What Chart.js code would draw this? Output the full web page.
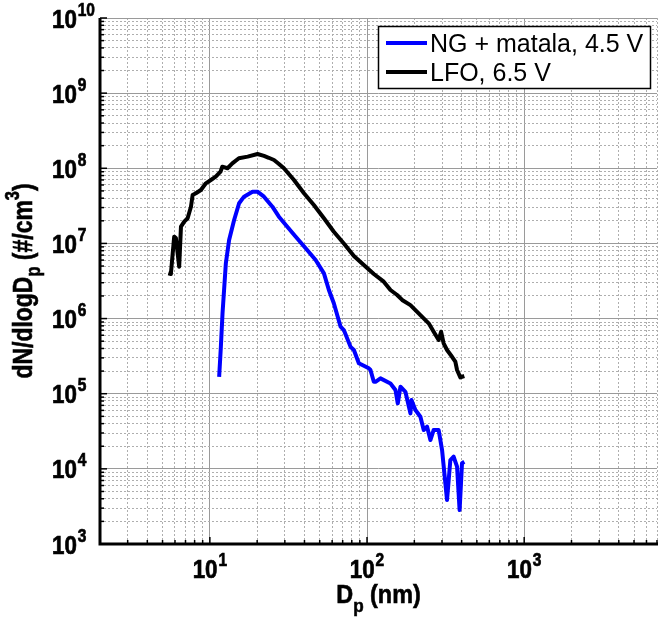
<!DOCTYPE html>
<html>
<head>
<meta charset="utf-8">
<script src="https://cdn.jsdelivr.net/npm/chart.js@4.4.1/dist/chart.umd.min.js"></script>
<style>
  html, body { margin: 0; padding: 0; background: #fff; }
</style>
</head>
<body>
<canvas id="psd" width="658" height="622"></canvas>
<script>
// size distributions: diameter in nm, dN/dlogDp in #/cm3
const ngDiameter = [11.46, 11.75, 12.04, 12.64, 13.26, 14.27, 15.35, 16.5, 18.67, 20.1, 22.1, 25.0, 27.5, 31.1, 35.2, 40.7, 47.1, 53.2, 57.2, 61.5, 67.9, 71.2, 78.6, 82.5, 88.7, 102.7, 105.2, 110.5, 113.2, 121.8, 141, 151.7, 156.9, 163.2, 175.5, 188.9, 191.7, 203.2, 218.6, 229.5, 241.1, 253.1, 265.6, 285.6, 300.3, 322.9, 339, 355.7, 374, 388.3, 402.2, 416];
const ngConc = [1.68e5, 4.2e5, 1.17e6, 5.44e6, 1.11e7, 2.05e7, 3.42e7, 4.19e7, 4.88e7, 4.88e7, 4.19e7, 3.08e7, 2.27e7, 1.67e7, 1.23e7, 8.61e6, 6.01e6, 4.0e6, 2.4e6, 1.6e6, 7.8e5, 7.04e5, 4.2e5, 3.82e5, 2.54e5, 2.18e5, 2.07e5, 1.44e5, 1.44e5, 1.6e5, 1.37e5, 1.12e5, 7.45e4, 1.24e5, 1.06e5, 5.48e4, 8.24e4, 6.07e4, 4.94e4, 3.29e4, 3.64e4, 2.42e4, 3.29e4, 3.29e4, 1.78e4, 3.85e3, 1.31e4, 1.45e4, 1.07e4, 2.83e3, 1.19e4, 1.24e4];

const lfoDiameter = [5.44, 5.65, 5.93, 6.08, 6.38, 6.55, 6.87, 7.22, 7.58, 7.77, 8.15, 8.77, 9.43, 10.15, 10.9, 11.7, 12.0, 12.95, 13.9, 15.3, 17.4, 20.1, 22.1, 23.7, 25.6, 27.4, 29.6, 34.3, 39.7, 45.9, 53.2, 61.5, 71.2, 82.5, 95.4, 110.5, 127.8, 141, 155.5, 167.3, 188.9, 218.6, 246.9, 265.6, 285.6, 296, 307.3, 322.9, 347.5, 364.7, 374, 392.5, 416];
const lfoConc = [4.0e6, 3.92e6, 1.23e7, 1.18e7, 4.9e6, 1.67e7, 1.95e7, 2.16e7, 3.08e7, 4.41e7, 4.65e7, 5.14e7, 6.31e7, 6.98e7, 7.73e7, 9.0e7, 1.05e8, 1.0e8, 1.16e8, 1.36e8, 1.43e8, 1.55e8, 1.46e8, 1.38e8, 1.29e8, 1.15e8, 1.0e8, 6.98e7, 4.65e7, 3.24e7, 2.16e7, 1.43e7, 1.0e7, 6.8e6, 5.16e6, 3.92e6, 3.1e6, 2.4e6, 2.06e6, 1.77e6, 1.51e6, 1.11e6, 8.65e5, 6.68e5, 5.19e5, 6.68e5, 4.69e5, 3.82e5, 3.1e5, 2.67e5, 2.07e5, 1.65e5, 1.72e5];

const seriesNames = ['NG + matala, 4.5 V', 'LFO, 6.5 V'];

// axis limits and labelled decades
const xMin = 2, xMax = 7000;
const yMin = 1e3, yMax = 1e10;
const xLabelExp = [1, 2, 3];
const yLabelExp = [3, 4, 5, 6, 7, 8, 9, 10];

// 1..9 x 10^n ticks for the log grid
function logTicks(min, max) {
  const out = [];
  for (let e = Math.floor(Math.log10(min)); e <= Math.ceil(Math.log10(max)); e++) {
    for (let m = 1; m <= 9; m++) {
      const v = m * Math.pow(10, e);
      if (v >= min * 0.999 && v <= max * 1.001) out.push(v);
    }
  }
  return out;
}

const isDecade = v => Math.abs(Math.log10(v) - Math.round(Math.log10(v))) < 1e-9;
const toPoints = (xs, ys) => xs.map((x, i) => ({ x: x, y: ys[i] }));

const FONT = '"Liberation Sans", Arial, Helvetica, sans-serif';
const squeeze = 0.86;

// fill + thin stroke so the bold text looks as heavy as the original
function heavyText(ctx, s, x, y) {
  ctx.fillText(s, x, y);
  ctx.strokeText(s, x, y);
}

// "10" with a raised exponent
function drawPow(ctx, x, y, exp, centred) {
  ctx.save();
  ctx.font = 'bold 26px ' + FONT;
  const wBase = ctx.measureText('10').width;
  ctx.font = 'bold 18px ' + FONT;
  const wExp = ctx.measureText(String(exp)).width;
  const total = (wBase + wExp + 1) * squeeze;
  const left = centred ? x - total / 2 : x;
  ctx.translate(left, y);
  ctx.scale(squeeze, 1);
  ctx.fillStyle = '#000';
  ctx.strokeStyle = '#000';
  ctx.lineWidth = 0.7;
  ctx.textBaseline = 'alphabetic';
  ctx.textAlign = 'left';
  ctx.font = 'bold 26px ' + FONT;
  heavyText(ctx, '10', 0, 0);
  ctx.font = 'bold 18px ' + FONT;
  heavyText(ctx, String(exp), wBase + 1, -12);
  ctx.restore();
}

// text made of pieces: [text, size, baseline shift], centred on cx
function drawPieces(ctx, pieces, cx, y) {
  let total = 0;
  pieces.forEach(p => {
    ctx.font = 'bold ' + p[1] + 'px ' + FONT;
    total += ctx.measureText(p[0]).width;
  });
  let x = cx - total / 2;
  pieces.forEach(p => {
    ctx.font = 'bold ' + p[1] + 'px ' + FONT;
    heavyText(ctx, p[0], x, y + p[2]);
    x += ctx.measureText(p[0]).width;
  });
}

const decor = {
  id: 'decor',
  afterDraw(chart) {
    const ctx = chart.ctx;
    const a = chart.chartArea;
    const xs = chart.scales.x, ys = chart.scales.y;
    ctx.save();
    ctx.strokeStyle = '#000';
    ctx.fillStyle = '#000';

    // inward tick marks
    ctx.lineWidth = 1.5;
    xs.ticks.forEach(t => {
      const px = xs.getPixelForValue(t.value);
      ctx.beginPath();
      ctx.moveTo(px, a.bottom);
      ctx.lineTo(px, a.bottom - (isDecade(t.value) ? 7 : 4));
      ctx.stroke();
    });
    ys.ticks.forEach(t => {
      const py = ys.getPixelForValue(t.value);
      ctx.beginPath();
      ctx.moveTo(a.left, py);
      ctx.lineTo(a.left + (isDecade(t.value) ? 7 : 4), py);
      ctx.stroke();
    });

    // axis lines
    ctx.lineWidth = 3;
    ctx.beginPath();
    ctx.moveTo(a.left, a.top);
    ctx.lineTo(a.left, a.bottom);
    ctx.lineTo(a.right + 1, a.bottom);
    ctx.stroke();

    // tick labels
    xLabelExp.forEach(e => drawPow(ctx, xs.getPixelForValue(Math.pow(10, e)), a.bottom + 34, e, true));
    yLabelExp.forEach(e => drawPow(ctx, 52, ys.getPixelForValue(Math.pow(10, e)) + 9.5, e, false));

    // axis titles
    ctx.textAlign = 'left';
    ctx.textBaseline = 'alphabetic';
    ctx.lineWidth = 0.6;
    ctx.save();
    ctx.translate((a.left + a.right) / 2, 603);
    ctx.scale(0.9, 1);
    drawPieces(ctx, [['D', 26, 0], ['p', 19, 9], [' (nm)', 26, 0]], 0, 0);
    ctx.restore();
    ctx.save();
    ctx.translate(32, (a.top + a.bottom) / 2);
    ctx.rotate(-Math.PI / 2);
    ctx.scale(0.82, 1);
    drawPieces(ctx, [['dN/dlogD', 28, 0], ['p', 20, 8], [' (#/cm', 28, 0], ['3', 20, -13], [')', 28, 0]], 0, 0);
    ctx.restore();

    // legend
    ctx.fillStyle = '#fff';
    ctx.fillRect(378.5, 26.5, 272, 62);
    ctx.lineWidth = 1.5;
    ctx.strokeStyle = '#000';
    ctx.strokeRect(378.5, 26.5, 272, 62);
    ctx.font = '25px ' + FONT;
    chart.data.datasets.forEach((ds, i) => {
      const ly = 43 + i * 29;
      ctx.strokeStyle = ds.borderColor;
      ctx.lineWidth = 4;
      ctx.beginPath();
      ctx.moveTo(386, ly);
      ctx.lineTo(427, ly);
      ctx.stroke();
      ctx.fillStyle = '#000';
      ctx.fillText(ds.label, 430, ly + 9);
    });
    ctx.restore();
  }
};

// decade lines a bit darker and solid, the rest dotted
const gridOpts = {
  color: c => (c.tick && isDecade(c.tick.value)) ? '#9a9a9a' : '#aeaeae',
  lineWidth: 1,
  drawTicks: false
};
const borderOpts = {
  display: false,
  dash: c => (c.tick && isDecade(c.tick.value)) ? [] : [2, 2]
};

new Chart(document.getElementById('psd'), {
  type: 'scatter',
  data: {
    datasets: [
      {
        label: seriesNames[0],
        data: toPoints(ngDiameter, ngConc),
        showLine: true,
        borderColor: 'rgb(0, 0, 255)',
        borderWidth: 4,
        borderJoinStyle: 'round',
        pointRadius: 0,
        tension: 0
      },
      {
        label: seriesNames[1],
        data: toPoints(lfoDiameter, lfoConc),
        showLine: true,
        borderColor: 'rgb(0, 0, 0)',
        borderWidth: 4,
        borderJoinStyle: 'round',
        pointRadius: 0,
        tension: 0
      }
    ]
  },
  options: {
    responsive: false,
    animation: false,
    devicePixelRatio: 1,
    layout: { padding: { left: 100, top: 18, right: 1, bottom: 78 } },
    plugins: { legend: { display: false }, tooltip: { enabled: false } },
    scales: {
      x: {
        type: 'logarithmic',
        min: xMin,
        max: xMax,
        afterBuildTicks: s => { s.ticks = logTicks(xMin, xMax).map(v => ({ value: v })); },
        ticks: { display: false, autoSkip: false },
        grid: gridOpts,
        border: borderOpts
      },
      y: {
        type: 'logarithmic',
        min: yMin,
        max: yMax,
        afterBuildTicks: s => { s.ticks = logTicks(yMin, yMax).map(v => ({ value: v })); },
        ticks: { display: false, autoSkip: false },
        grid: gridOpts,
        border: borderOpts
      }
    }
  },
  plugins: [decor]
});
</script>
</body>
</html>
